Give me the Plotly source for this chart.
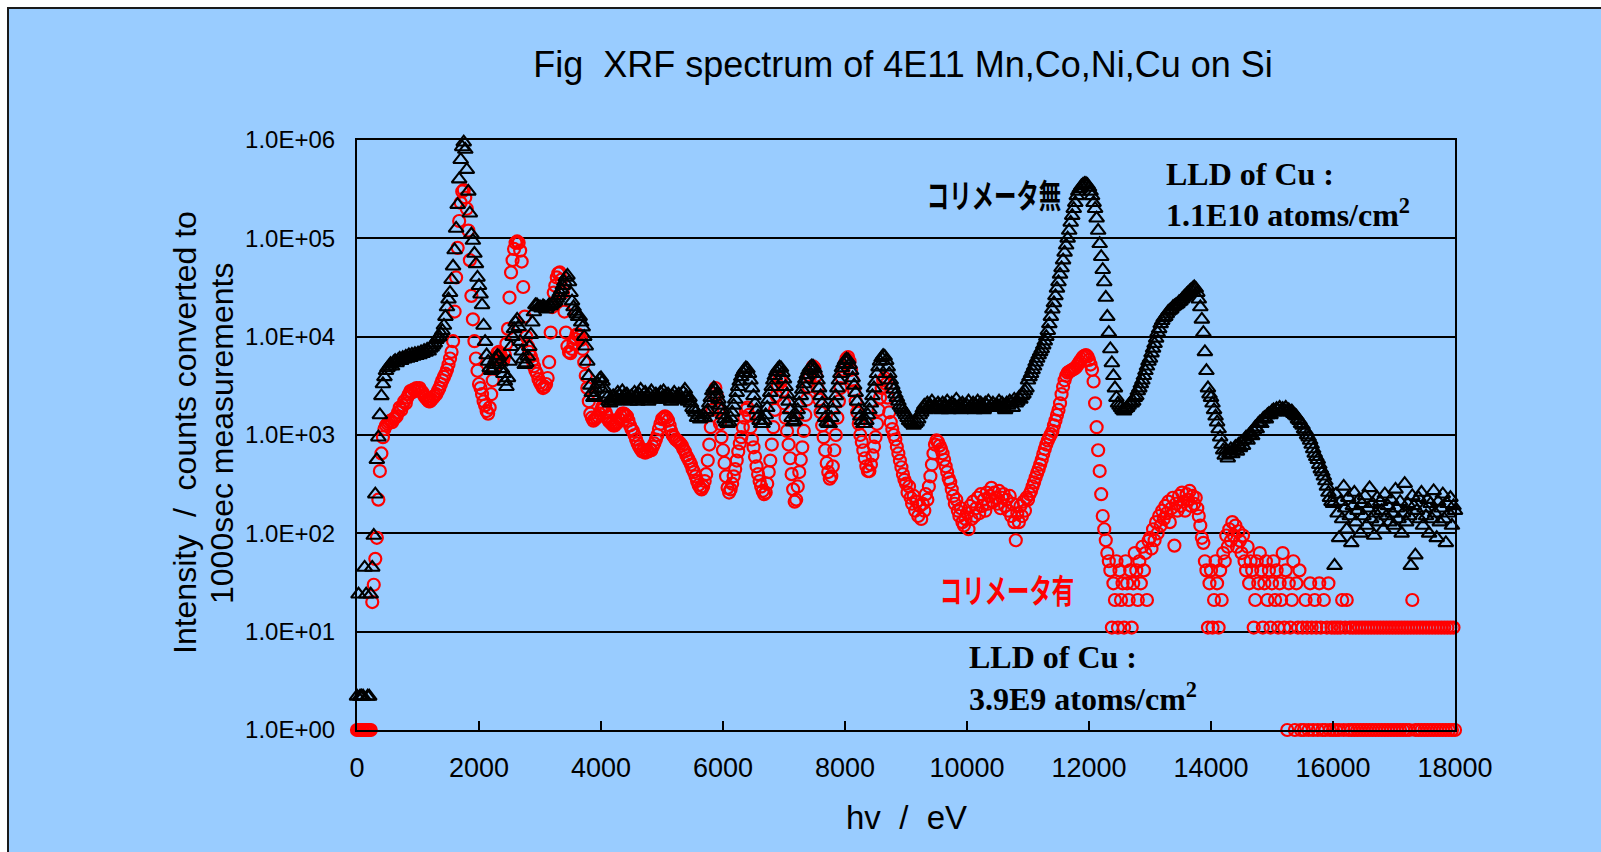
import plotly.graph_objects as go

W, H = 1601, 852
ML, MR, MT, MB = 357, 146, 140, 122
PW = W - ML - MR
PH = H - MT - MB

# channel energies (eV), 25 eV bins
energy_ev = list(range(0, 18001, 25))

# Intensity without collimator (black triangles), one value per 25 eV bin
counts_no_collimator = [
    2.2, 24, 2.2, 2.2, 2.2, 45, 24, 2.2, 2.2, 24, 45, 95, 250, 560, 950, 1600, 2500, 3300, 3900, 4500,
    4800, 5000, 5300, 5000, 5500, 5700, 5400, 5800, 6000, 5700, 6100, 5900, 6300, 6000, 6500, 6100, 6600, 6300, 6700, 6400,
    6800, 6500, 7000, 6700, 7200, 6900, 7400, 7100, 7600, 7800, 8200, 8600, 9300, 9700, 10000, 10800, 11500, 13000, 16000, 20000,
    24000, 28000, 38000, 52000, 76000, 126000, 220000, 400000, 630000, 850000, 950000, 800000, 500000, 300000, 180000, 110000, 95000, 70000, 55000, 40000,
    33000, 27000, 21000, 13000, 8900, 6500, 5600, 4800, 4500, 4600, 5200, 5900, 6400, 6300, 5500, 4700, 4200, 3500, 3100, 3800,
    5600, 7900, 10000, 12000, 14000, 15000, 12600, 8900, 7100, 5900, 5200, 5400, 6300, 7900, 10500, 14000, 17800, 21000, 21000, 20000,
    20000, 19500, 20500, 20000, 19000, 20000, 21000, 20500, 21500, 22000, 23000, 24500, 26000, 28000, 30000, 33000, 36000, 40000, 42000, 36000,
    28000, 23000, 20000, 18000, 17000, 16000, 16000, 14000, 12500, 10000, 8000, 5600, 4000, 3200, 2700, 2400, 2500, 2900, 3300, 3700,
    3800, 3500, 3000, 2600, 2400, 2200, 2100, 2300, 2500, 2200, 2400, 2700, 2500, 2300, 2800, 2500, 2300, 2600, 2400, 2200,
    2500, 2300, 2700, 2400, 2200, 2600, 2900, 2400, 2300, 2700, 2500, 2200, 2600, 2800, 2400, 2300, 2600, 2500, 2300, 2700,
    2400, 2800, 2500, 2300, 2600, 2400, 2200, 2500, 2700, 2400, 2300, 2600, 2500, 2300, 2700, 2900, 2500, 2200, 2400, 2100,
    1900, 1800, 1700, 1500, 1600, 1450, 1500, 1600, 1500, 1700, 1800, 2100, 2400, 2800, 3000, 2900, 2600, 2300, 2000, 1800,
    1600, 1450, 1350, 1300, 1350, 1500, 1700, 2000, 2300, 2700, 3100, 3500, 3900, 4300, 4600, 4800, 4700, 4200, 3600, 3000,
    2500, 2100, 1800, 1550, 1400, 1300, 1300, 1400, 1600, 1900, 2300, 2700, 3100, 3600, 4000, 4400, 4700, 4900, 4800, 4300,
    3700, 3100, 2600, 2200, 1800, 1500, 1350, 1400, 1600, 1800, 2100, 2500, 2900, 3300, 3700, 4100, 4500, 4800, 5000, 5000,
    4700, 4200, 3600, 3000, 2500, 2100, 1800, 1500, 1350, 1300, 1300, 1500, 1800, 2100, 2500, 3000, 3600, 4200, 4800, 5300,
    5700, 5900, 5800, 5200, 4500, 3800, 3200, 2700, 2200, 1800, 1550, 1400, 1300, 1300, 1400, 1600, 1800, 2100, 2500, 3000,
    3500, 4200, 4900, 5600, 6100, 6400, 6300, 5700, 4900, 4200, 3600, 3200, 2900, 2600, 2400, 2200, 2000, 1900, 1800, 1700,
    1600, 1500, 1400, 1350, 1300, 1250, 1300, 1350, 1450, 1600, 1700, 1850, 2000, 1800, 2100, 1900, 2000, 2200, 1900, 2000,
    1900, 2100, 2000, 1800, 2100, 1900, 2000, 2200, 1800, 2000, 2100, 1900, 2000, 2300, 1900, 2000, 1800, 2100, 2000, 1900,
    2000, 2200, 1900, 2000, 2100, 1800, 2000, 2200, 1900, 2100, 2000, 1800, 2100, 2000, 2200, 1900, 2000, 2100, 1900, 2000,
    2000, 2200, 1900, 2100, 2000, 1800, 2100, 2000, 2200, 2100, 1900, 2300, 2100, 2200, 2400, 2300, 2500, 2600, 2800, 3000,
    3600, 3900, 4200, 4600, 5000, 5500, 6000, 6500, 7000, 7500, 8200, 9000, 10000, 11500, 13500, 16000, 19000, 22000, 26000, 31000,
    36000, 43000, 50000, 60000, 72000, 85000, 100000, 120000, 145000, 170000, 200000, 230000, 270000, 300000, 320000, 340000, 350000, 360000, 360000, 350000,
    330000, 300000, 270000, 230000, 200000, 160000, 120000, 88000, 65000, 48000, 36000, 25000, 16000, 11000, 7500, 5400, 4000, 3000, 2400, 2100,
    2000, 1900, 1800, 1750, 1850, 1900, 2000, 2100, 2100, 2200, 2400, 2500, 2800, 3000, 3300, 3600, 4000, 4500, 5000, 5600,
    6000, 6800, 7600, 8500, 9600, 11000, 12000, 13500, 14500, 15500, 16000, 17000, 18000, 18500, 19000, 20000, 20500, 21000, 21500, 22500,
    23000, 24000, 25000, 26000, 27000, 28000, 29000, 30000, 31000, 32000, 31000, 28000, 24000, 20000, 15000, 11000, 7000, 4500, 3000, 2600,
    2400, 2100, 1800, 1550, 1350, 1150, 950, 800, 700, 620, 700, 580, 650, 720, 640, 700, 760, 680, 800, 740,
    850, 780, 900, 950, 880, 1000, 1050, 980, 1100, 1200, 1150, 1300, 1350, 1300, 1450, 1500, 1450, 1600, 1650, 1600,
    1750, 1800, 1700, 1850, 1800, 1900, 1750, 1850, 1800, 1900, 1750, 1800, 1700, 1750, 1650, 1600, 1550, 1450, 1400, 1300,
    1250, 1150, 1100, 1000, 950, 880, 800, 720, 650, 600, 560, 500, 450, 420, 380, 340, 300, 260, 230, 210,
    200, 47, 250, 160, 90, 210, 140, 300, 180, 110, 230, 150, 80, 190, 260, 130, 170, 220, 100, 200,
    150, 240, 120, 180, 290, 140, 200, 95, 160, 230, 130, 210, 170, 110, 250, 150, 190, 130, 220, 160,
    120, 280, 180, 140, 210, 100, 160, 320, 130, 200, 150, 47, 240, 190, 60, 170, 230, 140, 260, 120,
    180, 150, 220, 100, 200, 140, 270, 160, 90, 210, 130, 180, 250, 140, 80, 200, 160, 230, 120, 190,
    170,
]

# Intensity with collimator (red circles), one value per 25 eV bin
counts_with_collimator = [
    1, 1, 1, 1, 1, 1, 1, 1, 1, 1, 20, 30, 55, 90, 220, 430, 650, 950, 1150, 1250,
    1300, 1350, 1400, 1350, 1450, 1500, 1550, 1700, 1900, 1800, 2000, 2200, 2100, 2400, 2600, 2800, 2700, 2900, 2800, 3000,
    2900, 3000, 2800, 2700, 2500, 2400, 2300, 2200, 2200, 2300, 2400, 2500, 2600, 2800, 3000, 3300, 3600, 3900, 4200, 4600,
    5200, 6000, 7000, 9000, 18000, 40000, 80000, 150000, 230000, 300000, 310000, 260000, 200000, 120000, 60000, 26000, 15000, 9000, 6000, 4500,
    3300, 3000, 2600, 2200, 2000, 1750, 1650, 1900, 2600, 3600, 4800, 6000, 6800, 7000, 6600, 6000, 5800, 6500, 8500, 12000,
    25000, 45000, 60000, 78000, 90000, 93000, 90000, 75000, 58000, 32000, 16000, 10000, 8000, 7000, 6300, 5700, 5000, 4500, 4200, 3700,
    3400, 3200, 3000, 3100, 3300, 3800, 5500, 11000, 20000, 28000, 33000, 40000, 44000, 45000, 38000, 28000, 18000, 11000, 8000, 7000,
    6800, 7500, 8500, 9500, 10500, 10500, 10000, 9300, 7500, 5500, 4000, 3000, 2200, 1650, 1500, 1400, 1450, 1500, 1550, 1650,
    1800, 1950, 1900, 1700, 1550, 1400, 1350, 1300, 1250, 1250, 1300, 1350, 1450, 1550, 1650, 1650, 1600, 1550, 1400, 1250,
    1150, 1100, 1000, 900, 820, 760, 720, 680, 700, 660, 700, 680, 720, 700, 760, 820, 900, 1000, 1150, 1300,
    1450, 1500, 1550, 1500, 1400, 1250, 1100, 1000, 950, 900, 880, 850, 820, 780, 720, 680, 620, 580, 540, 500,
    450, 420, 380, 340, 310, 290, 280, 300, 340, 400, 550, 800, 1200, 1800, 2600, 3000, 2500, 1800, 1300, 950,
    700, 520, 380, 290, 260, 280, 320, 380, 450, 550, 680, 820, 950, 1200, 1500, 1800, 1900, 1600, 1200, 900,
    750, 600, 480, 400, 340, 300, 270, 250, 260, 320, 420, 550, 800, 1200, 1800, 2500, 3200, 3700, 3500, 2800,
    2100, 1500, 1100, 800, 580, 400, 280, 210, 220, 300, 420, 560, 750, 1100, 1600, 2300, 3100, 3900, 4600, 5000,
    4800, 4000, 3000, 2300, 1700, 1250, 950, 700, 520, 420, 360, 380, 480, 700, 1000, 1500, 2200, 3000, 3800, 4600,
    5400, 6000, 6200, 5600, 4600, 3600, 2800, 2200, 1700, 1300, 1000, 850, 700, 580, 480, 430, 430, 500, 620, 760,
    950, 1300, 1800, 2400, 3000, 3600, 3800, 3300, 2400, 1700, 1350, 1150, 1000, 900, 760, 650, 550, 470, 400, 350,
    320, 260, 300, 230, 200, 240, 170, 210, 150, 190, 140, 200, 170, 250, 220, 300, 380, 500, 650, 800,
    880, 850, 780, 720, 650, 560, 480, 420, 360, 330, 280, 240, 200, 220, 170, 150, 180, 130, 120, 140,
    160, 110, 190, 140, 210, 150, 180, 230, 160, 250, 190, 220, 170, 260, 200, 240, 290, 210, 260, 230,
    200, 270, 180, 230, 250, 190, 220, 170, 240, 150, 200, 130, 85, 160, 130, 190, 150, 210, 170, 230,
    220, 250, 270, 300, 330, 370, 410, 450, 500, 560, 640, 720, 800, 880, 950, 1020, 1100, 1250, 1400, 1600,
    1800, 2100, 2600, 3100, 3600, 4000, 4300, 4400, 4500, 4600, 4700, 4800, 5000, 5300, 5600, 5900, 6200, 6400, 6500, 6300,
    5800, 5200, 4600, 3500, 2100, 1200, 700, 430, 250, 150, 110, 85, 63, 52, 42, 11, 31, 21, 52, 11,
    42, 21, 31, 11, 52, 31, 21, 42, 11, 31, 63, 42, 21, 52, 31, 73, 42, 63, 21, 84,
    90, 70, 110, 85, 130, 100, 150, 120, 170, 140, 190, 160, 210, 130, 180, 230, 75, 200, 170, 240,
    190, 260, 210, 170, 250, 220, 270, 190, 240, 200, 230, 180, 150, 120, 90, 80, 52, 42, 11, 31,
    42, 11, 21, 52, 31, 11, 42, 21, 63, 52, 95, 73, 110, 84, 130, 95, 120, 73, 105, 84,
    63, 95, 52, 42, 73, 31, 52, 42, 11, 21, 52, 31, 63, 42, 11, 31, 52, 21, 42, 11,
    31, 52, 21, 42, 11, 31, 21, 63, 11, 42, 1, 31, 11, 21, 52, 1, 31, 11, 42, 1,
    11, 1, 21, 11, 1, 31, 11, 1, 21, 11, 1, 31, 11, 1, 21, 1, 11, 31, 1, 11,
    1, 11, 1, 11, 1, 11, 21, 1, 11, 21, 1, 11, 1, 11, 1, 11, 1, 11, 1, 11,
    1, 11, 1, 11, 1, 11, 1, 11, 1, 11, 1, 11, 1, 11, 1, 11, 1, 11, 1, 11,
    1, 11, 1, 11, 1, 11, 1, 11, 1, 11, 1, 11, 21, 11, 1, 11, 1, 11, 1, 11,
    1, 11, 1, 11, 1, 11, 1, 11, 1, 11, 1, 11, 1, 11, 1, 11, 1, 11, 1, 11,
    1,
]

x_tick_values = [0, 2000, 4000, 6000, 8000, 10000, 12000, 14000, 16000, 18000]
x_tick_labels = ["0", "2000", "4000", "6000", "8000", "10000", "12000", "14000", "16000", "18000"]
y_tick_values = [1, 10, 100, 1000, 10000, 100000, 1000000]
y_tick_labels = ["1.0E+00", "1.0E+01", "1.0E+02", "1.0E+03", "1.0E+04", "1.0E+05", "1.0E+06"]

title_text = "Fig\u00a0\u00a0XRF spectrum of 4E11 Mn,Co,Ni,Cu on Si"
x_title = "hv\u00a0\u00a0/\u00a0\u00a0eV"
y_title_1 = "Intensity\u00a0\u00a0/\u00a0\u00a0counts converted to"
y_title_2 = "1000sec measurements"
label_no_coll = "コリメータ無"
label_coll = "コリメータ有"
lld_black = ["LLD of Cu :", "1.1E10 atoms/cm<sup>2</sup>"]
lld_red = ["LLD of Cu :", "3.9E9 atoms/cm<sup>2</sup>"]

BG = "#99CCFF"
SANS = "Liberation Sans, Arial, sans-serif"
SERIF = "Liberation Serif, Times New Roman, serif"
CJK = "Noto Sans CJK JP, sans-serif"


def px_x(px):
    return (px - ML) / PW


def px_y(py):
    return (H - MB - py) / PH


fig = go.Figure()
fig.add_trace(go.Scatter(
    x=energy_ev, y=counts_with_collimator, mode="markers", name=label_coll,
    marker=dict(symbol="circle-open", size=12, color="#FF0000", line=dict(width=2.2, color="#FF0000")),
    cliponaxis=False, showlegend=False, hoverinfo="x+y"))
fig.add_trace(go.Scatter(
    x=energy_ev, y=counts_no_collimator, mode="markers", name=label_no_coll,
    marker=dict(symbol="triangle-up-open", size=13, color="#000000", line=dict(width=2.1, color="#000000")),
    cliponaxis=False, showlegend=False, hoverinfo="x+y"))

annotations = [
    dict(text=x_title, x=px_x(906), y=px_y(817), font=dict(family=SANS, size=33, color="#000")),
    dict(text=y_title_1, x=px_x(185), y=px_y(433), textangle=-90, font=dict(family=SANS, size=32, color="#000")),
    dict(text=y_title_2, x=px_x(222), y=px_y(433), textangle=-90, font=dict(family=SANS, size=32, color="#000")),
    dict(text=label_no_coll, x=px_x(994), y=px_y(194), font=dict(family=CJK, size=33, color="#000000", weight="bold")),
    dict(text=label_coll, x=px_x(1007), y=px_y(589), font=dict(family=CJK, size=33, color="#FF0000", weight="bold")),
    dict(text=lld_black[0], x=px_x(1165), y=px_y(174), xanchor="left", font=dict(family=SERIF, size=32, color="#000", weight="bold")),
    dict(text=lld_black[1], x=px_x(1165), y=px_y(213), xanchor="left", font=dict(family=SERIF, size=32, color="#000", weight="bold")),
    dict(text=lld_red[0], x=px_x(968), y=px_y(657), xanchor="left", font=dict(family=SERIF, size=32, color="#000", weight="bold")),
    dict(text=lld_red[1], x=px_x(968), y=px_y(697), xanchor="left", font=dict(family=SERIF, size=32, color="#000", weight="bold")),
]
for a in annotations:
    a.setdefault("xanchor", "center")
    a.update(xref="paper", yref="paper", yanchor="middle", showarrow=False, borderpad=0)

fig.update_layout(
    width=W, height=H,
    margin=dict(l=ML, r=MR, t=MT, b=MB, pad=0, autoexpand=False),
    paper_bgcolor="#FFFFFF", plot_bgcolor=BG, showlegend=False,
    font=dict(family=SANS, color="#000000"),
    title=dict(text=title_text, x=903 / W, xref="container", xanchor="center",
               y=1 - 64 / H, yref="container", yanchor="middle",
               font=dict(family=SANS, size=36, color="#000000")),
    xaxis=dict(range=[0, 18000], tickmode="array", tickvals=x_tick_values, ticktext=x_tick_labels,
               ticks="inside", ticklen=9, tickwidth=1.5, tickcolor="#000",
               showline=True, linecolor="#000", linewidth=2, mirror=True,
               showgrid=False, zeroline=False,
               tickfont=dict(family=SANS, size=27, color="#000"), ticklabelstandoff=13),
    yaxis=dict(type="log", range=[0, 6], tickmode="array", tickvals=y_tick_values, ticktext=y_tick_labels,
               ticks="inside", ticklen=8, tickwidth=1.5, tickcolor="#000",
               showline=True, linecolor="#000", linewidth=2, mirror=True,
               showgrid=True, gridcolor="#000", gridwidth=1.5, zeroline=False,
               tickfont=dict(family=SANS, size=24, color="#000"), ticklabelstandoff=15),
    shapes=[
        dict(type="rect", xref="paper", yref="paper",
             x0=px_x(8), x1=px_x(1700), y0=px_y(8), y1=px_y(950),
             fillcolor=BG, line=dict(width=0), layer="below"),
        dict(type="line", xref="paper", yref="paper",
             x0=px_x(7), x1=px_x(1700), y0=px_y(8), y1=px_y(8),
             line=dict(color="#1a1a1a", width=2), layer="below"),
        dict(type="line", xref="paper", yref="paper",
             x0=px_x(8), x1=px_x(8), y0=px_y(7), y1=px_y(950),
             line=dict(color="#1a1a1a", width=2), layer="below"),
    ],
    annotations=annotations,
)

# Condense the Japanese labels horizontally, like the narrow bold gothic face of the original
post_js = """
var gd = document.getElementById('{plot_id}');
function squeezeLabels() {
  var texts = gd.querySelectorAll('g.annotation text');
  for (var i = 0; i < texts.length; i++) {
    var t = texts[i];
    var s = t.textContent || '';
    if (s.indexOf('\\u30b3\\u30ea\\u30e1') === 0 && !t.getAttribute('data-sq')) {
      var bb = t.getBBox();
      var cx = bb.x + bb.width / 2;
      var prev = t.getAttribute('transform') || '';
      t.setAttribute('transform', prev + ' translate(' + cx + ',0) scale(0.68,1) translate(' + (-cx) + ',0)');
      t.setAttribute('data-sq', '1');
    }
  }
}
squeezeLabels();
gd.on('plotly_afterplot', function(){ squeezeLabels(); });
"""

fig.write_html("out.html", post_script=post_js)
